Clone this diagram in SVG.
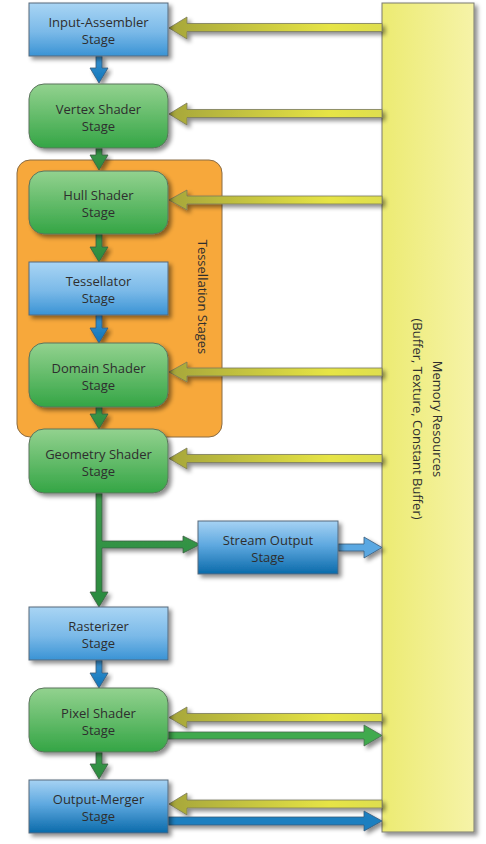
<svg xmlns="http://www.w3.org/2000/svg" width="486" height="844" viewBox="0 0 486 844">
<defs>
<filter id="sh" x="-20%" y="-20%" width="150%" height="160%">
<feDropShadow dx="3" dy="3" stdDeviation="2" flood-color="#000" flood-opacity="0.45"/>
</filter>
<linearGradient id="gBlue" x1="0" y1="0" x2="0" y2="1">
<stop offset="0" stop-color="#a9d5f4"/><stop offset="0.55" stop-color="#7ab9e8"/><stop offset="1" stop-color="#3a93d4"/>
</linearGradient>
<linearGradient id="gBlueDark" x1="0" y1="0" x2="0" y2="1">
<stop offset="0" stop-color="#a6d2f3"/><stop offset="0.45" stop-color="#5fa9e0"/><stop offset="1" stop-color="#0a6aaa"/>
</linearGradient>
<linearGradient id="gGreen" x1="0" y1="0" x2="0" y2="1">
<stop offset="0" stop-color="#93d28f"/><stop offset="1" stop-color="#34a545"/>
</linearGradient>
<linearGradient id="gMem" x1="0" y1="0" x2="1" y2="0">
<stop offset="0" stop-color="#eceb72"/><stop offset="1" stop-color="#f6f3a8"/>
</linearGradient>
<linearGradient id="gYel" gradientUnits="userSpaceOnUse" x1="170" y1="0" x2="382" y2="0">
<stop offset="0" stop-color="#a6a63a"/><stop offset="0.75" stop-color="#e6e445"/><stop offset="1" stop-color="#dede50"/>
</linearGradient>
<linearGradient id="gDownBlue" x1="0" y1="0" x2="0" y2="1">
<stop offset="0" stop-color="#3a94d2"/><stop offset="1" stop-color="#0f74b8"/>
</linearGradient>
<linearGradient id="gDownGreen" x1="0" y1="0" x2="0" y2="1">
<stop offset="0" stop-color="#3b9a4a"/><stop offset="1" stop-color="#2a8a3e"/>
</linearGradient>
</defs>
<style>
.bx{stroke:#56687a;stroke-width:1;filter:url(#sh)}
.gx{stroke:#5b745c;stroke-width:1;filter:url(#sh)}
.t{font-family:"Open Sans","Noto Sans","Liberation Sans",sans-serif;font-size:13px;fill:#2e2e2e;text-anchor:middle}
.ya{fill:url(#gYel);stroke:#7a7a5a;stroke-width:0.8;filter:url(#sh)}
.db{fill:url(#gDownBlue);stroke:#3b5b78;stroke-width:0.8;filter:url(#sh)}
.dg{fill:url(#gDownGreen);stroke:#3e5e44;stroke-width:0.8;filter:url(#sh)}
.og{fill:#3faa4e;stroke:#4a6a50;stroke-width:0.8;filter:url(#sh)}
.ob{fill:#1a7fc0;stroke:#3b5b78;stroke-width:0.8;filter:url(#sh)}
.lb{fill:#5aa8e2;stroke:#3b5b78;stroke-width:0.8;filter:url(#sh)}
</style>

<g id="tessellation-group">
<rect x="17" y="160" width="205" height="277" rx="13" fill="#f7a83b" stroke="#8a6c44" stroke-width="1"/>
<text class="t" font-size="13" transform="translate(197.5,297) rotate(90)">Tessellation Stages</text>
</g>

<g id="memory-resources">
<rect x="382" y="3" width="92" height="829" fill="url(#gMem)" stroke="#7a7a70" stroke-width="1" filter="url(#sh)"/>
<text class="t" font-size="12.5" transform="translate(432.5,419) rotate(90)">Memory Resources</text>
<text class="t" font-size="12.5" transform="translate(412.5,419) rotate(90)">(Buffer, Texture, Constant Buffer)</text>
</g>

<g id="connectors">
<polygon class="db" points="96,56 102,56 102,68 108,68 99,83 90,68 96,68"/>
<polygon class="dg" points="96,148 102,148 102,155 108,155 99,170 90,155 96,155"/>
<polygon class="dg" points="96,234 102,234 102,247 108,247 99,262 90,247 96,247"/>
<polygon class="db" points="96,315 102,315 102,328 108,328 99,343 90,328 96,328"/>
<polygon class="dg" points="96,407 102,407 102,414 108,414 99,429 90,414 96,414"/>
<polygon class="dg" points="96,493 102,493 102,541 183,541 183,536 200,544.5 183,553 183,548 102,548 102,592 108,592 99,607 90,592 96,592"/>
<polygon class="db" points="96,660 102,660 102,673 108,673 99,688 90,673 96,673"/>
<polygon class="dg" points="96,752 102,752 102,764 108,764 99,779 90,764 96,764"/>
<polygon class="ya" points="382,23.5 187,23.5 187,17 169,28 187,39 187,31.5 382,31.5"/>
<polygon class="ya" points="382,109.5 187,109.5 187,103 169,114 187,125 187,117.5 382,117.5"/>
<polygon class="ya" points="382,196 187,196 187,190 169,200 187,210 187,204 382,204"/>
<polygon class="ya" points="382,368 187,368 187,362 169,372 187,382 187,376 382,376"/>
<polygon class="ya" points="382,454.5 187,454.5 187,448 169,458.5 187,469 187,462.5 382,462.5"/>
<polygon class="ya" points="382,713.5 187,713.5 187,707 169,717.5 187,728 187,721.5 382,721.5"/>
<polygon class="ya" points="382,800 187,800 187,793 169,804 187,815 187,808 382,808"/>
<polygon class="lb" points="338,544 364,544 364,537 382,547.5 364,558 364,551 338,551"/>
<polygon class="og" points="168,732 364,732 364,725 382,735.5 364,746 364,739 168,739"/>
<polygon class="ob" points="168,817 364,817 364,811 382,821 364,831 364,825 168,825"/>
</g>

<g id="input-assembler">
<rect class="bx" x="29" y="3" width="139" height="53" fill="url(#gBlue)"/>
<text class="t" x="98.5" y="27">Input-Assembler</text>
<text class="t" x="98.5" y="44">Stage</text>
</g>
<g id="vertex-shader">
<rect class="gx" x="29" y="84" width="139" height="64" rx="15" fill="url(#gGreen)"/>
<text class="t" x="98.5" y="113.5">Vertex Shader</text>
<text class="t" x="98.5" y="130.5">Stage</text>
</g>
<g id="hull-shader">
<rect class="gx" x="29" y="171" width="139" height="63" rx="15" fill="url(#gGreen)"/>
<text class="t" x="98.5" y="200">Hull Shader</text>
<text class="t" x="98.5" y="217">Stage</text>
</g>
<g id="tessellator">
<rect class="bx" x="29" y="262" width="139" height="53" fill="url(#gBlue)"/>
<text class="t" x="98.5" y="286">Tessellator</text>
<text class="t" x="98.5" y="303">Stage</text>
</g>
<g id="domain-shader">
<rect class="gx" x="29" y="343" width="139" height="64" rx="15" fill="url(#gGreen)"/>
<text class="t" x="98.5" y="372.5">Domain Shader</text>
<text class="t" x="98.5" y="389.5">Stage</text>
</g>
<g id="geometry-shader">
<rect class="gx" x="29" y="429" width="139" height="64" rx="15" fill="url(#gGreen)"/>
<text class="t" x="98.5" y="458.5">Geometry Shader</text>
<text class="t" x="98.5" y="475.5">Stage</text>
</g>
<g id="stream-output">
<rect class="bx" x="198" y="521" width="140" height="53" fill="url(#gBlueDark)"/>
<text class="t" x="268" y="545">Stream Output</text>
<text class="t" x="268" y="562">Stage</text>
</g>
<g id="rasterizer">
<rect class="bx" x="29" y="607" width="139" height="53" fill="url(#gBlue)"/>
<text class="t" x="98.5" y="631">Rasterizer</text>
<text class="t" x="98.5" y="648">Stage</text>
</g>
<g id="pixel-shader">
<rect class="gx" x="29" y="688" width="139" height="64" rx="15" fill="url(#gGreen)"/>
<text class="t" x="98.5" y="717.5">Pixel Shader</text>
<text class="t" x="98.5" y="734.5">Stage</text>
</g>
<g id="output-merger">
<rect class="bx" x="29" y="780" width="139" height="53" fill="url(#gBlueDark)"/>
<text class="t" x="98.5" y="804">Output-Merger</text>
<text class="t" x="98.5" y="821">Stage</text>
</g>
</svg>
